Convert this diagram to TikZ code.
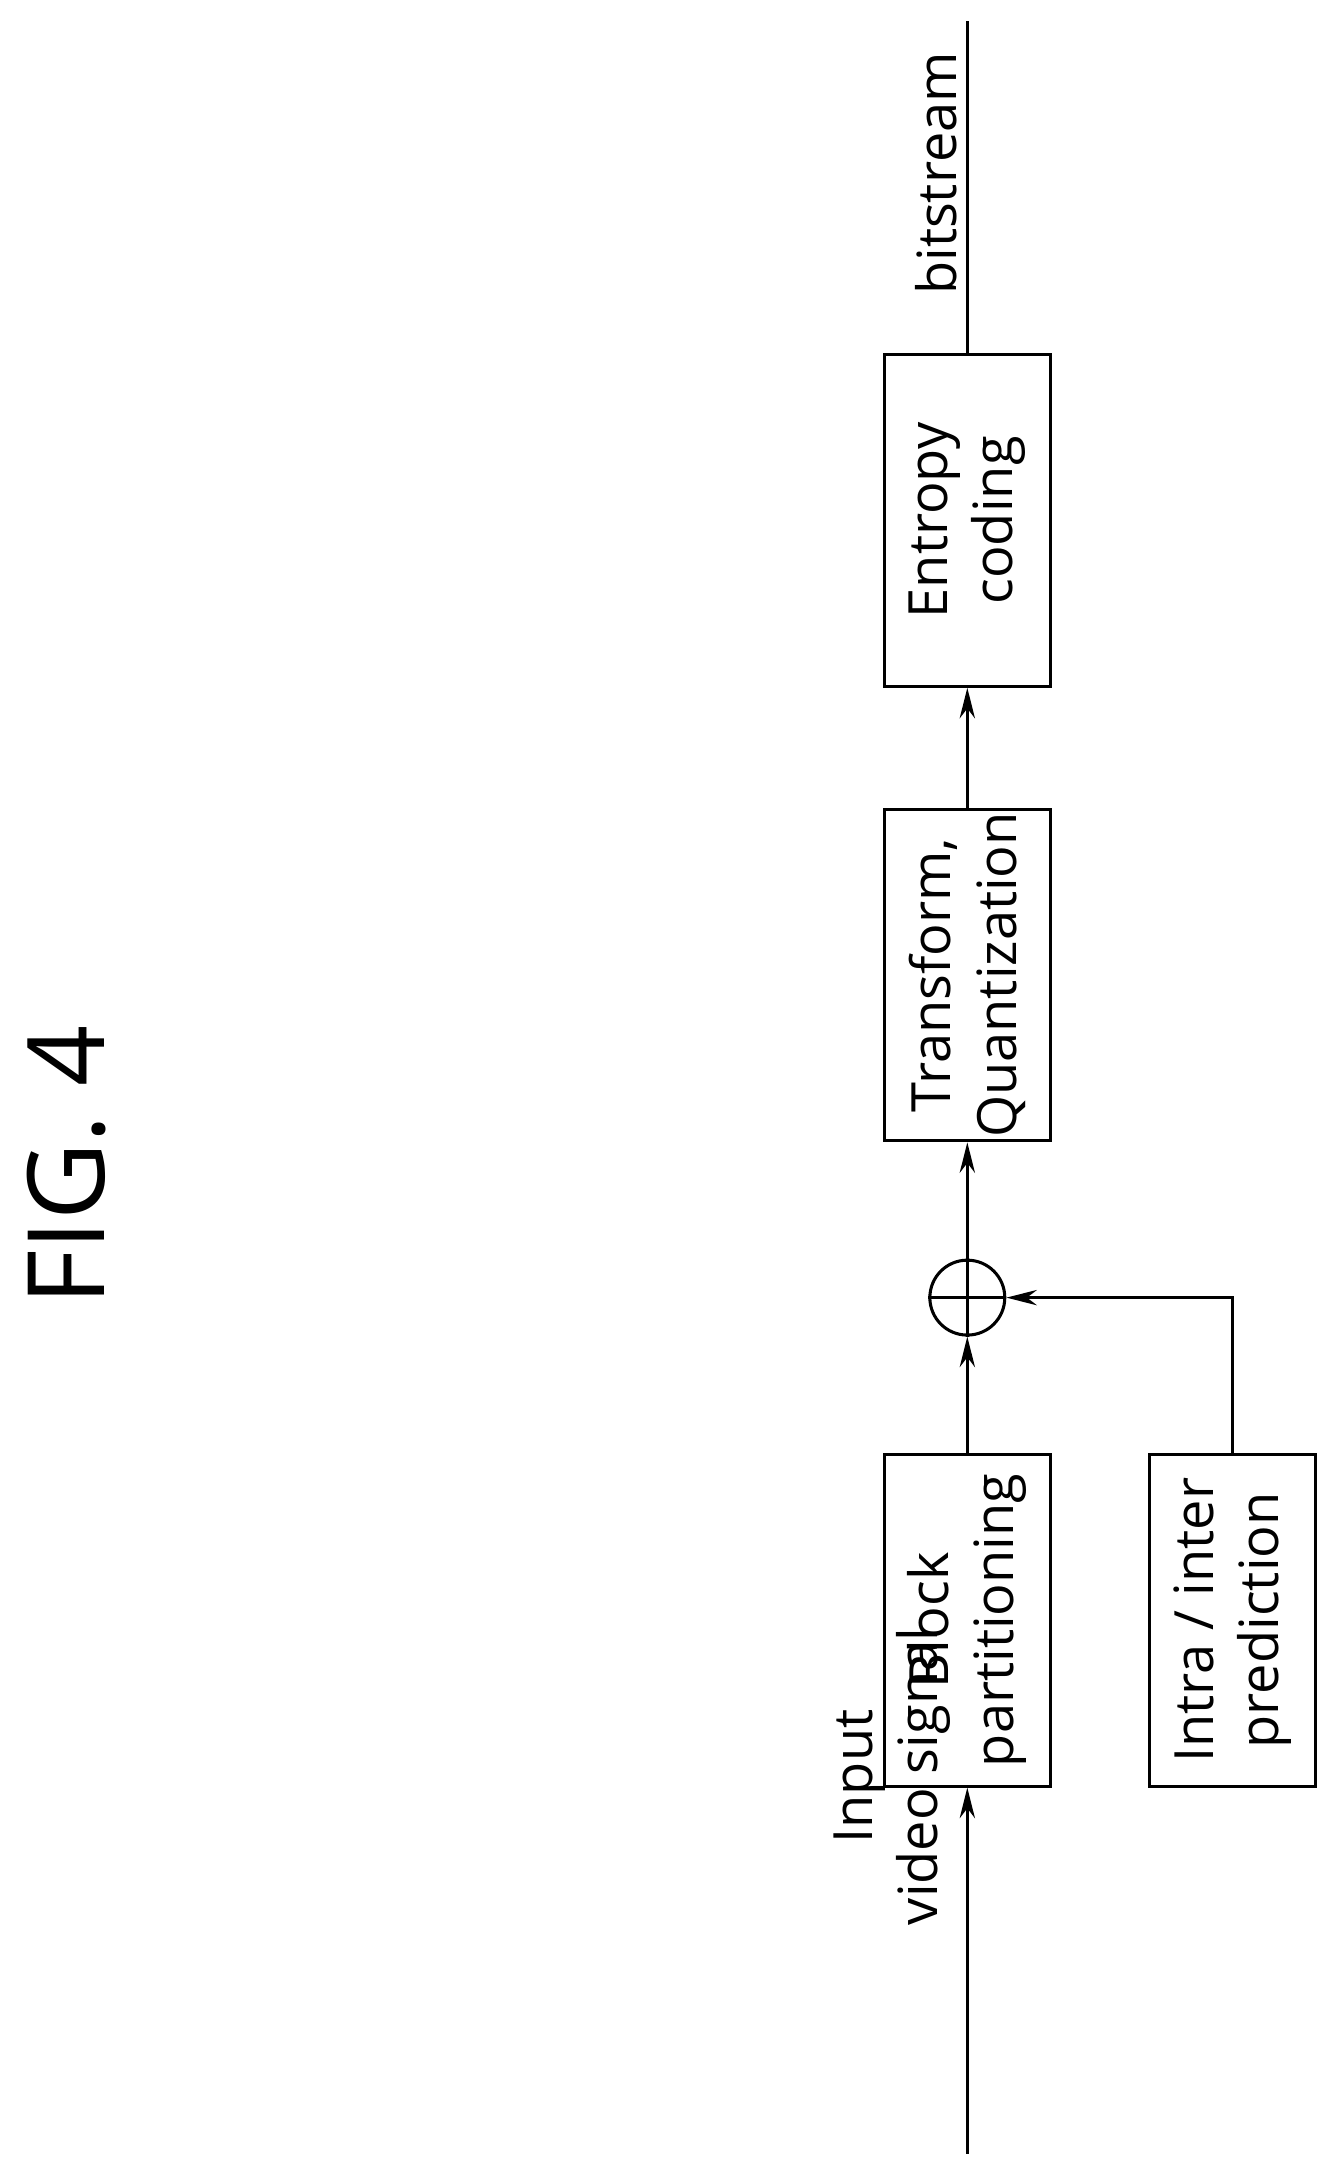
\documentclass[tikz,border=0pt]{standalone}
\usepackage{fontspec}
\setmainfont{Open Sans}
\usetikzlibrary{arrows.meta}

\begin{document}
\begin{tikzpicture}[x=1pt,y=-1pt,
  blk/.style={draw,line width=2.2pt,rotate=90,minimum width=239pt,minimum height=120pt,
    align=center,inner sep=0pt,font=\fontsize{39}{47}\selectfont},
  lbl/.style={rotate=90,align=center,inner sep=0pt,font=\fontsize{39}{47}\selectfont},
  sig/.style={line width=2.2pt,-{Stealth[length=22pt,width=11pt]}}]
\useasboundingbox (0,0) rectangle (960,1560);

% Boxes
\node[blk] (part) at (697,1167.5) {Block\\partitioning};
\node[blk] (pred) at (888,1167.5) {Intra / inter\\prediction};
\node[blk] (trq) at (697,702.5) {Transform,\\Quantization};
\node[blk] (ent) at (697,375) {Entropy\\coding};
\node[draw,circle,line width=2.2pt,minimum size=54pt,inner sep=0pt] (sum) at (697,935) {};
\draw[line width=2.2pt] (sum.north) -- (sum.south) (sum.west) -- (sum.east);

% Text
\node[lbl] (inlbl) at (643,1280) {Input\\video signal};
\node[lbl,anchor=south] (outlbl) at (690,125) {bitstream};
\node[rotate=90,inner sep=0pt,font=\fontsize{77}{90}\selectfont] (fig) at (48,840) {FIG. 4};

% Connectors
\coordinate (src) at (697,1552);
\coordinate (dst) at (697,15);
\draw[sig] (src) -- (part.west);
\draw[sig] (part.east) -- (sum.south);
\draw[sig] (pred.east) |- (sum.east);
\draw[sig] (sum.north) -- (trq.west);
\draw[sig] (trq.east) -- (ent.west);
\draw[line width=2.2pt] (ent.east) -- (dst);
\end{tikzpicture}
\end{document}
